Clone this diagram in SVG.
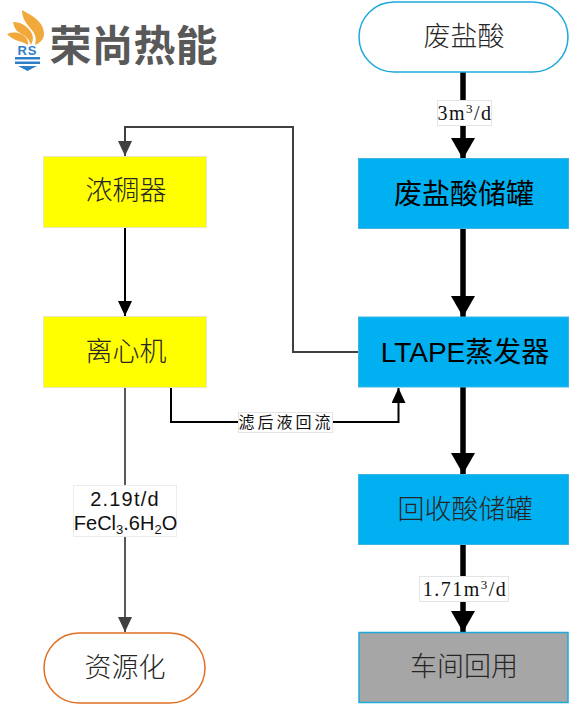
<svg xmlns="http://www.w3.org/2000/svg" width="572" height="705" viewBox="0 0 572 705">
<style>
.t{font-family:"Noto Sans CJK SC","Liberation Sans",sans-serif;font-size:27px;text-anchor:middle;fill:#262626;font-weight:300}
.k{font-family:"Liberation Sans","Noto Sans CJK SC",sans-serif;font-size:28px;fill:#000;font-weight:400}
.s{font-family:"Liberation Serif","Noto Sans CJK SC",serif;font-size:20px;text-anchor:middle;fill:#111;letter-spacing:1.500px}
.u{font-family:"Liberation Sans","Noto Sans CJK SC",sans-serif;font-size:20px;text-anchor:middle;fill:#111}
.y{fill:#ffff00;stroke:#e8e8c0;stroke-width:1}
.b{fill:#00b0f0;stroke:#3fb4e0;stroke-width:1}
.lb{fill:#fff;stroke:#e4e4e4;stroke-width:1}
.c{fill:none}
</style>
<defs>
<marker id="ah" markerUnits="userSpaceOnUse" markerWidth="22" markerHeight="24" refX="21" refY="12" orient="auto"><path d="M0 0L21 12L0 24Z" fill="#000"/></marker>
<marker id="am" markerUnits="userSpaceOnUse" markerWidth="16" markerHeight="14" refX="15" refY="7" orient="auto"><path d="M0 0L15 7L0 14Z" fill="#000"/></marker>
<marker id="ag" markerUnits="userSpaceOnUse" markerWidth="16" markerHeight="14" refX="15" refY="7" orient="auto"><path d="M0 0L15 7L0 14Z" fill="#404040"/></marker>
</defs>
<rect width="572" height="705" fill="#fff"/>
<g id="logo">
<path d="M22 10C33 16 44 22 44 34C44 39 40 43 35 45C37 38 35 33 30 28C26 23 22 18 22 10Z" fill="#f2a93b"/>
<path d="M13 22C21 22 27 26 31 32C34 37 33 41 31 45C29 39 26 36 20 33C16 31 14 27 13 22Z" fill="#f2a93b"/>
<path d="M7 34C15 31 23 33 27 39C28 41 28 43 28 45C22 41 13 41 7 34Z" fill="#f2a93b"/>
<text x="27.500" y="55" font-family="Liberation Sans,sans-serif" font-size="13" font-weight="bold" text-anchor="middle" fill="#2f7fc8" letter-spacing="1">RS</text>
<path d="M15 57H40V59.500H15ZM15 61.500H40V64H15Z" fill="#2f7fc8"/>
<path d="M18 66H37L27.500 71Z" fill="#2f7fc8"/>
<text x="133.500" y="61" font-family="Noto Sans CJK SC,sans-serif" font-size="42" font-weight="700" text-anchor="middle" fill="#595959">荣尚热能</text>
</g>
<g id="connectors">
<path class="c" d="M463 71V159" stroke="#000" stroke-width="5.500" stroke-linecap="round" marker-end="url(#ah)"/>
<path class="c" d="M463 229V317" stroke="#000" stroke-width="5.500" stroke-linecap="round" marker-end="url(#ah)"/>
<path class="c" d="M463 387V474" stroke="#000" stroke-width="5.500" stroke-linecap="round" marker-end="url(#ah)"/>
<path class="c" d="M463 544V632" stroke="#000" stroke-width="5.500" stroke-linecap="round" marker-end="url(#ah)"/>
<path class="c" d="M125 228V316" stroke="#000" stroke-width="2" marker-end="url(#am)"/>
<path class="c" d="M358 352H293V127H125V156" stroke="#404040" stroke-width="2" marker-end="url(#ag)"/>
<path class="c" d="M171 387V422H398.500V388" stroke="#000" stroke-width="2" marker-end="url(#am)"/>
<path class="c" d="M125 387V632" stroke="#595959" stroke-width="2" marker-end="url(#ag)"/>
</g>
<g id="n1"><rect x="359" y="2" width="209" height="70" rx="35" fill="#fff" stroke="#1fa8dc" stroke-width="1.500"/><text class="t" x="464" y="46">废盐酸</text></g>
<g id="n2"><rect class="b" x="358.500" y="158.500" width="210" height="70"/><text class="t k" x="464" y="204">废盐酸储罐</text></g>
<g id="n3"><rect class="b" x="358.500" y="317" width="210" height="70"/><text class="t k" x="465" y="362">LTAPE蒸发器</text></g>
<g id="n4"><rect class="b" x="358.500" y="474.500" width="210" height="70"/><text class="t" x="465" y="519">回收酸储罐</text></g>
<g id="n5"><rect x="359" y="632.500" width="209" height="70" fill="#a6a6a6" stroke="#1fa8dc" stroke-width="1.500"/><text class="t" x="464" y="676">车间回用</text></g>
<g id="n6"><rect class="y" x="43.500" y="156.500" width="163" height="71"/><text class="t" x="126" y="200">浓稠器</text></g>
<g id="n7"><rect class="y" x="43.500" y="316.500" width="163" height="71"/><text class="t" x="126" y="361">离心机</text></g>
<g id="n8"><rect x="44" y="633" width="161" height="70" rx="35" fill="#fff" stroke="#e07020" stroke-width="1.500"/><text class="t" x="125" y="677">资源化</text></g>
<g id="l1"><rect class="lb" x="437.500" y="100.500" width="54" height="25"/><text class="s" x="465" y="120">3m<tspan font-size="13" dy="-7">3</tspan><tspan dy="7">/d</tspan></text></g>
<g id="l2"><rect class="lb" x="419.500" y="576.500" width="89" height="25"/><text class="s" x="465" y="596" letter-spacing="3">1.71m<tspan font-size="13" dy="-7">3</tspan><tspan dy="7">/d</tspan></text></g>
<g id="l3"><rect class="lb" x="238.500" y="412.500" width="94" height="20"/><text x="286" y="428" font-family="Noto Sans CJK SC,sans-serif" font-size="16" text-anchor="middle" fill="#111" letter-spacing="3">滤后液回流</text></g>
<g id="l4"><rect x="73.500" y="485.500" width="103" height="51" fill="#fff" stroke="#ececec"/><text class="u" x="125" y="506" letter-spacing="1.200">2.19t/d</text><text class="u" x="125.500" y="530">FeCl<tspan font-size="13" dy="4">3</tspan><tspan dy="-4">.6H</tspan><tspan font-size="13" dy="4">2</tspan><tspan dy="-4">O</tspan></text></g>
</svg>
